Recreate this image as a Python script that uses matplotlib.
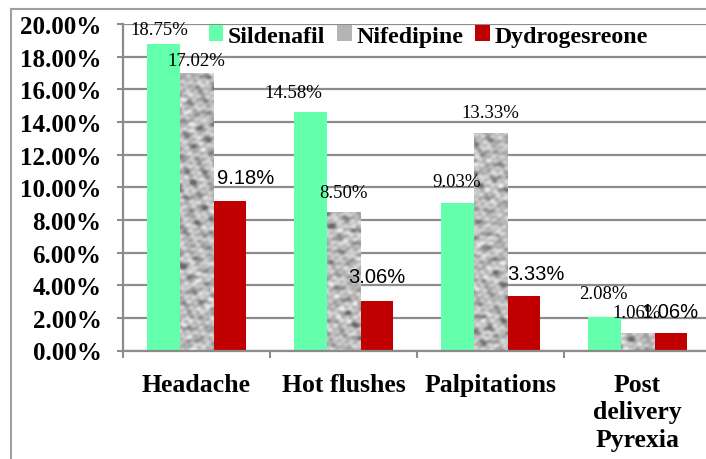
import numpy as np
import matplotlib
matplotlib.use('Agg')
import matplotlib.pyplot as plt
from matplotlib.lines import Line2D
from matplotlib.ticker import FuncFormatter, FixedLocator

categories = ['Headache', 'Hot flushes', 'Palpitations', 'Post\ndelivery\nPyrexia']
sildenafil = [18.75, 14.58, 9.03, 2.08]
nifedipine = [17.02, 8.50, 13.33, 1.06]
dydrogesreone = [9.18, 3.06, 3.33, 1.06]
series_names = ['Sildenafil', 'Nifedipine', 'Dydrogesreone']

# label nudges (pixels): (dx, gap above bar top)
sil_nudge = [(-4, 10), (-17, 15), (-1, 17), (-1, 19)]
nif_nudge = [(0, 8), (0, 15), (0, 16), (-1, 16)]
dyd_nudge = [(16, 18), (0, 19), (12, 17), (0, 16)]

green = '#64ffaa'
red = '#c00000'
gridc = '#8c8c8c'

fig = plt.figure(figsize=(7.06, 4.6), dpi=100)
ax = fig.add_axes([123 / 706, 1 - 351.5 / 460, 588 / 706, 326.5 / 460])

x = np.arange(len(categories)) + 0.5
w = 0.2245
b1 = ax.bar(x - w, sildenafil, w, color=green, zorder=2)
b2 = ax.bar(x, nifedipine, w, color='#a8a8a8', zorder=2)
b3 = ax.bar(x + w, dydrogesreone, w, color=red, zorder=2)

ax.set_xlim(0, 4)
ax.set_ylim(0, 20)

# mottled grey texture for the Nifedipine bars
h, wd = 330, 590
yy, xx = np.mgrid[0:h, 0:wd].astype(float)
a1 = (np.sin(0.42 * xx + 0.17 * yy) + np.sin(-0.23 * xx + 0.39 * yy + 1.3)
      + np.sin(0.13 * xx - 0.47 * yy + 2.1))
a2 = (np.sin(0.29 * xx + 0.33 * yy + 0.7) + np.sin(-0.37 * xx - 0.19 * yy + 2.9)
      + np.sin(0.07 * xx + 0.52 * yy + 4.0))
a3 = (np.sin(0.83 * xx + 0.41 * yy + 0.4) + np.sin(-0.71 * xx + 0.88 * yy + 2.6)
      + np.sin(0.17 * xx + 1.05 * yy + 5.9))
tex = a1 * a2 / 3 + 0.6 * a1 + 0.5 * a2 + 0.35 * a3
tex = (tex - tex.mean()) / tex.std()
tex = 0.72 - 0.09 * tex
tex = np.clip(tex, 0.42, 0.92)
for p in b2:
    im = ax.imshow(tex, cmap='gray', vmin=0, vmax=1, extent=(0, 4, 0, 20),
                   aspect='auto', origin='lower', zorder=2.1, interpolation='bilinear')
    im.set_clip_path(p)

serif = 'Liberation Serif'
sans = 'Liberation Sans'

def label(bars, vals, nudges, family, size):
    for p, v, (dx, dy) in zip(bars, vals, nudges):
        ax.annotate('%.2f%%' % v, (p.get_x() + p.get_width() / 2, v),
                    xytext=(dx, dy), textcoords='offset pixels',
                    ha='center', va='baseline', family=family, fontsize=size,
                    zorder=3)

label(b1, sildenafil, sil_nudge, serif, 13.5)
label(b2, nifedipine, nif_nudge, serif, 13.5)
label(b3, dydrogesreone, dyd_nudge, sans, 14.5)

ax.set_yticks(np.arange(0, 21, 2))
ax.yaxis.set_major_formatter(FuncFormatter(lambda v, pos: '%.2f%%' % v))
ax.grid(axis='y', color=gridc, linewidth=1.6, zorder=0)
ax.set_axisbelow(True)

ax.xaxis.set_major_locator(FixedLocator([0, 1, 2, 3, 4]))
ax.xaxis.set_major_formatter(FuncFormatter(lambda v, pos: ''))
ax.xaxis.set_minor_locator(FixedLocator(x))
ax.set_xticklabels(categories, minor=True)
ax.tick_params(axis='x', which='minor', length=0, pad=16)
ax.tick_params(axis='x', which='major', length=5, width=1.5, color=gridc)
ax.tick_params(axis='y', length=4.5, width=1.5, color=gridc, pad=11)

for t in ax.get_yticklabels():
    t.set_family(serif)
    t.set_fontweight('bold')
    t.set_fontsize(18)
for t in ax.get_xticklabels(minor=True):
    t.set_family(serif)
    t.set_fontweight('bold')
    t.set_fontsize(18.5)
    t.set_linespacing(1.25)

for s in ['top', 'right']:
    ax.spines[s].set_visible(False)
for s in ['left', 'bottom']:
    ax.spines[s].set_color(gridc)
    ax.spines[s].set_linewidth(1.6)

leg = fig.legend([b1, b2, b3], series_names, ncol=3, loc='center left',
                 bbox_to_anchor=(209 / 706, 1 - 37 / 460), frameon=False,
                 borderpad=0, borderaxespad=0, handlelength=0.6, handleheight=0.6,
                 handletextpad=0.2, columnspacing=0.5,
                 prop={'family': serif, 'weight': 'bold', 'size': 17.2})
for p in leg.legend_handles[1:2]:
    p.set_facecolor('#b4b4b4')

# outer chart frame
fig.add_artist(Line2D([11 / 706, 11 / 706], [0, 1 - 10 / 460], color='#a0a0a0',
                      linewidth=1.5, transform=fig.transFigure))
fig.add_artist(Line2D([11 / 706, 1], [1 - 10 / 460, 1 - 10 / 460], color='#a0a0a0',
                      linewidth=1.5, transform=fig.transFigure))

fig.savefig('out.png', dpi=100)
